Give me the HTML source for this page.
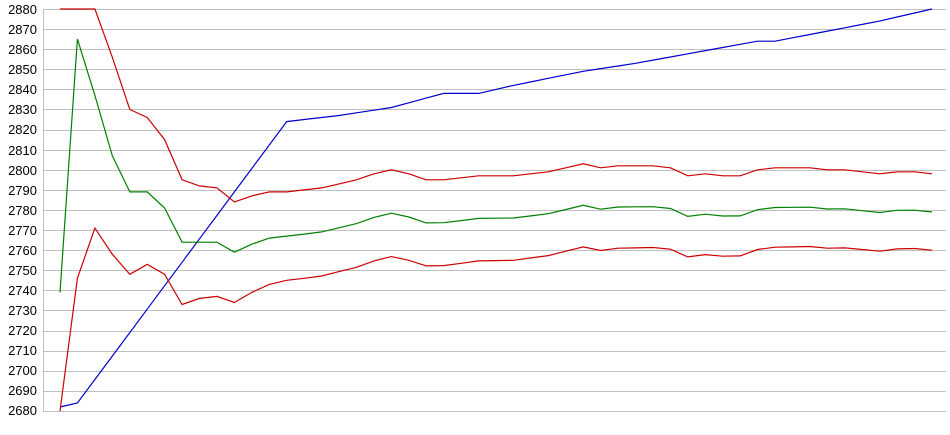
<!DOCTYPE html><html><head><meta charset="utf-8"><style>
body{margin:0;background:#fff;width:950px;height:435px;overflow:hidden}
svg{display:block}
text{font-family:"Liberation Sans",Arial,sans-serif;font-size:13px;fill:#000}
</style></head><body>
<svg id="s" width="950" height="435" xmlns="http://www.w3.org/2000/svg">
<g id="grid"></g>
<line x1="43.5" y1="9" x2="43.5" y2="411" stroke="#c0c0c0"/>
<g id="lab"></g>
<g id="ser"></g>
<text x="37" y="14" text-anchor="end">2880</text><text x="37" y="34" text-anchor="end">2870</text><text x="37" y="54" text-anchor="end">2860</text><text x="37" y="74" text-anchor="end">2850</text><text x="37" y="94" text-anchor="end">2840</text><text x="37" y="114" text-anchor="end">2830</text><text x="37" y="134" text-anchor="end">2820</text><text x="37" y="155" text-anchor="end">2810</text><text x="37" y="175" text-anchor="end">2800</text><text x="37" y="195" text-anchor="end">2790</text><text x="37" y="215" text-anchor="end">2780</text><text x="37" y="235" text-anchor="end">2770</text><text x="37" y="255" text-anchor="end">2760</text><text x="37" y="275" text-anchor="end">2750</text><text x="37" y="295" text-anchor="end">2740</text><text x="37" y="315" text-anchor="end">2730</text><text x="37" y="335" text-anchor="end">2720</text><text x="37" y="355" text-anchor="end">2710</text><text x="37" y="375" text-anchor="end">2700</text><text x="37" y="395" text-anchor="end">2690</text><text x="37" y="415" text-anchor="end">2680</text>
</svg>
<script>
var NS="http://www.w3.org/2000/svg";
function Y(v){return 9+(2880-v)*2.01;}
function X(i){return 60+i*17.44;}
var g=document.getElementById('grid');
for(var k=0;k<=20;k++){var y=Math.round(Y(2880-k*10))+0.5;var l=document.createElementNS(NS,'line');
l.setAttribute('x1',43);l.setAttribute('x2',946);l.setAttribute('y1',y);l.setAttribute('y2',y);l.setAttribute('stroke','#c0c0c0');g.appendChild(l);}
var up=[2880,2880,2880,2856,2830,2826,2815,2795,2792,2791,2784,2787,2789,2789,
2790,2791,2793,2795,2798,2800,2798,2795,2795,2796,2797,2797,2797,2798,2799,2801,2803,2801,2802,2802,2802,2801,2797,2798,2797,2797,2800,2801,2801,2801,2800,2800,2799,2798,2799,2799,2798];
var gr=[2739,2865,2837,2807,2789,2789,2781,2764,2764,2764,2759,2763,2766,2767];
var lo=[2680,2746,2771,2758,2748,2753,2748,2733,2736,2737,2734,2739,2743,2745];
for(var i=14;i<=50;i++){var d=44-(i-14)*6/36;lo.push(up[i]-d);gr.push(up[i]-d/2);}
var bk=[[0,2682],[1,2684],[13,2824],[14,2825],[16,2827],[19,2831],[22,2838],[24,2838],[26,2842],[30,2849],[33,2853],[40,2864],[41,2864],[47,2874],[50,2880]];
var bl=[];for(var j=0;j<bk.length-1;j++){var a=bk[j],b=bk[j+1];for(var i=a[0];i<b[0];i++)bl.push(a[1]+(b[1]-a[1])*(i-a[0])/(b[0]-a[0]));}bl.push(2880);
function pl(arr,c){var p=document.createElementNS(NS,'polyline');p.setAttribute('points',arr.map(function(v,i){return X(i).toFixed(1)+','+Y(v).toFixed(1)}).join(' '));
p.setAttribute('fill','none');p.setAttribute('stroke',c);p.setAttribute('stroke-width','1.2');document.getElementById('ser').appendChild(p);}
pl(bl,'#0000cc');pl(lo,'#cc0000');pl(gr,'#008000');pl(up,'#cc0000');
</script>
</body></html>
